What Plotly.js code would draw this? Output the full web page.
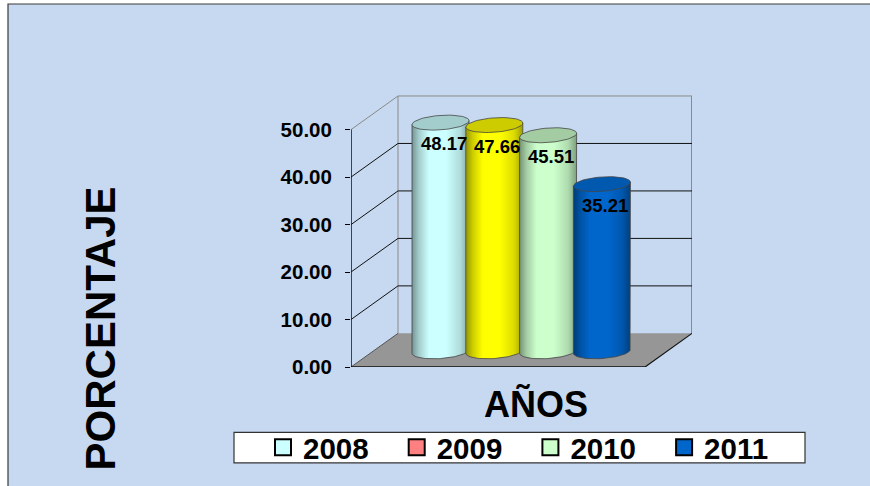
<!DOCTYPE html>
<html>
<head>
<meta charset="utf-8">
<script src="https://cdn.plot.ly/plotly-3.0.1.min.js"></script>
<style>html,body{margin:0;padding:0;background:#fff;}#chart{width:870px;height:486px;}</style>
</head>
<body>
<div id="chart"></div>
<script>
// ---- data ----
const years = ['2008', '2009', '2010', '2011'];
const values = [48.17, 47.66, 45.51, 35.21];
const barColors = ['#CCFFFF', '#FFFF00', '#CCFFCC', '#0066CC'];
const legendColors = ['#CCFFFF', '#FF8080', '#CCFFCC', '#0066CC'];
const yTicks = [0, 10, 20, 30, 40, 50];

// ---- geometry (layout constants) ----
const W = 870, H = 486;
const ML = 351, MR = 178, MT = 94, MB = 116;
const PW = W - ML - MR, PH = H - MT - MB;
const PXU = 4.8;                    // px per y unit
const YMAX = PH / PXU;
const DX = 47, DY = 34 / PXU;       // depth offset
const X0 = 89.5, STEP = 53.8;       // cylinder centre positions
const RA = 28.5, RB = 7.3 / PXU;    // ellipse radii
const SHEAR = 0.07 / PXU;           // slight oblique tilt of ellipses
const BASE = 3.3;                   // cylinder base (depth)
const FONT = 'Arial, "Liberation Sans", Helvetica, sans-serif';

const PX = p => (p - ML) / PW;
const PY = p => (H - MB - p) / PH;

function shade(hex, f) {
  const n = parseInt(hex.slice(1), 16);
  const r = Math.min(255, Math.round(((n >> 16) & 255) * f));
  const g = Math.min(255, Math.round(((n >> 8) & 255) * f));
  const b = Math.min(255, Math.round((n & 255) * f));
  return 'rgb(' + r + ',' + g + ',' + b + ')';
}
function arc(cx, cy, t0, t1, n) {
  const xs = [], ys = [];
  for (let i = 0; i <= n; i++) {
    const t = t0 + (t1 - t0) * i / n;
    const dx = RA * Math.cos(t);
    xs.push(cx + dx);
    ys.push(cy + RB * Math.sin(t) + SHEAR * dx);
  }
  return [xs, ys];
}

const traces = [];
const annotations = [];
years.forEach((yr, i) => {
  const cx = X0 + i * STEP;
  const top = BASE + values[i];
  const c = barColors[i];
  const low = arc(cx, BASE, 0, -Math.PI, 40);
  const bx = [cx - RA, cx - RA, cx + RA, cx + RA].concat(low[0]);
  const by = [BASE - SHEAR * RA, top - SHEAR * RA, top + SHEAR * RA, BASE + SHEAR * RA].concat(low[1]);
  traces.push({
    type: 'scatter', mode: 'lines', x: bx, y: by, fill: 'toself',
    fillcolor: c,
    fillgradient: {
      type: 'horizontal',
      colorscale: [[0, shade(c, 0.58)], [0.12, shade(c, 0.8)], [0.3, c], [0.6, c], [0.85, shade(c, 0.86)], [1, shade(c, 0.62)]]
    },
    line: {color: '#454545', width: 0.8},
    showlegend: false, hoverinfo: 'skip'
  });
  const tp = arc(cx, top, 0, 2 * Math.PI, 60);
  traces.push({
    type: 'scatter', mode: 'lines', x: tp[0], y: tp[1], fill: 'toself',
    fillcolor: shade(c, i === 3 ? 0.86 : 0.8),
    line: {color: '#454545', width: 0.8},
    showlegend: false, hoverinfo: 'skip'
  });
  annotations.push({
    x: cx + 3, y: top, xref: 'x', yref: 'y', yshift: -21,
    text: values[i].toFixed(2), showarrow: false,
    font: {family: FONT, size: 18.5, color: '#000', weight: 'bold'}
  });
});

// legend-only traces
years.forEach((yr, i) => {
  traces.push({
    type: 'scatter', mode: 'markers', x: [null], y: [null], name: yr,
    marker: {symbol: 'square', size: 16, color: legendColors[i], line: {color: '#000', width: 2}},
    showlegend: true, hoverinfo: 'skip'
  });
});

// ---- frame shapes ----
const shapes = [];
shapes.push({type: 'rect', xref: 'paper', yref: 'paper', layer: 'below',
  x0: PX(8), x1: PX(900), y0: PY(520), y1: PY(3),
  fillcolor: '#C6D9F0', line: {color: '#3a3a3a', width: 1.2}});
shapes.push({type: 'rect', xref: 'paper', yref: 'paper', layer: 'below',
  x0: PX(234), x1: PX(805), y0: PY(467), y1: PY(436),
  fillcolor: '#FFFFFF', line: {color: '#333', width: 1.2}});
const BW = PW; // back-right x
const FR = BW - DX; // front-right x
shapes.push({type: 'path', layer: 'below', xref: 'x', yref: 'y',
  path: `M 0 0 L ${FR} 0 L ${BW} ${DY} L ${DX} ${DY} Z`,
  fillcolor: '#969696', line: {width: 0}});
function seg(x0, y0, x1, y1, color, width) {
  shapes.push({type: 'line', layer: 'below', xref: 'x', yref: 'y', x0, y0, x1, y1,
    line: {color, width}});
}
const yTop = yTicks[yTicks.length - 1];
seg(DX, DY, DX, yTop + DY, '#8a8a8a', 1);
seg(BW - 0.5, DY, BW - 0.5, yTop + DY, '#8a8a8a', 1);
seg(DX, yTop + DY, BW, yTop + DY, '#8a8a8a', 1);
yTicks.forEach(v => {
  if (v > 0 && v < yTop) {
    seg(DX, v + DY, BW, v + DY, '#111', 1);
    seg(0, v, DX, v + DY, '#111', 1);
  }
});
seg(0, yTop, DX, yTop + DY, '#8a8a8a', 1);
seg(0, 0, DX, DY, '#555', 1);
seg(0, 0, FR, 0, '#111', 1.5);
seg(FR, 0, BW, DY, '#111', 1.2);
seg(0, 0, 0, yTop, '#111', 1.5);

annotations.push({
  xref: 'paper', yref: 'paper', x: PX(536), y: PY(407), text: 'AÑOS', showarrow: false,
  xanchor: 'center', yanchor: 'middle',
  font: {family: FONT, size: 36, color: '#000', weight: 'bold'}
});
annotations.push({
  xref: 'paper', yref: 'paper', x: PX(100), y: PY(331), text: 'PORCENTAJE', showarrow: false,
  xanchor: 'center', yanchor: 'middle', textangle: -90,
  font: {family: FONT, size: 42, color: '#000', weight: 'bold'}
});

const layout = {
  width: W, height: H,
  margin: {l: ML, r: MR, t: MT, b: MB, pad: 0},
  paper_bgcolor: '#FFFFFF', plot_bgcolor: 'rgba(0,0,0,0)',
  xaxis: {range: [0, PW], visible: false, fixedrange: true},
  yaxis: {range: [0, YMAX], showgrid: false, zeroline: false, showline: false,
    tickvals: yTicks, ticktext: yTicks.map(v => v.toFixed(2)),
    ticks: 'outside', ticklen: 5, tickwidth: 1, tickcolor: '#000',
    ticklabelstandoff: 9,
    tickfont: {family: FONT, size: 20.5, color: '#000', weight: 'bold'}, fixedrange: true},
  showlegend: true,
  legend: {orientation: 'h', x: PX(263), y: PY(451.5), xanchor: 'left', yanchor: 'middle',
    bgcolor: 'rgba(0,0,0,0)', borderwidth: 0, entrywidth: 88.7, itemwidth: 30,
    font: {family: FONT, size: 29.5, color: '#000', weight: 'bold'}},
  shapes, annotations,
  hovermode: false
};
Plotly.newPlot('chart', traces, layout, {displayModeBar: false, staticPlot: true});
</script>
</body>
</html>
